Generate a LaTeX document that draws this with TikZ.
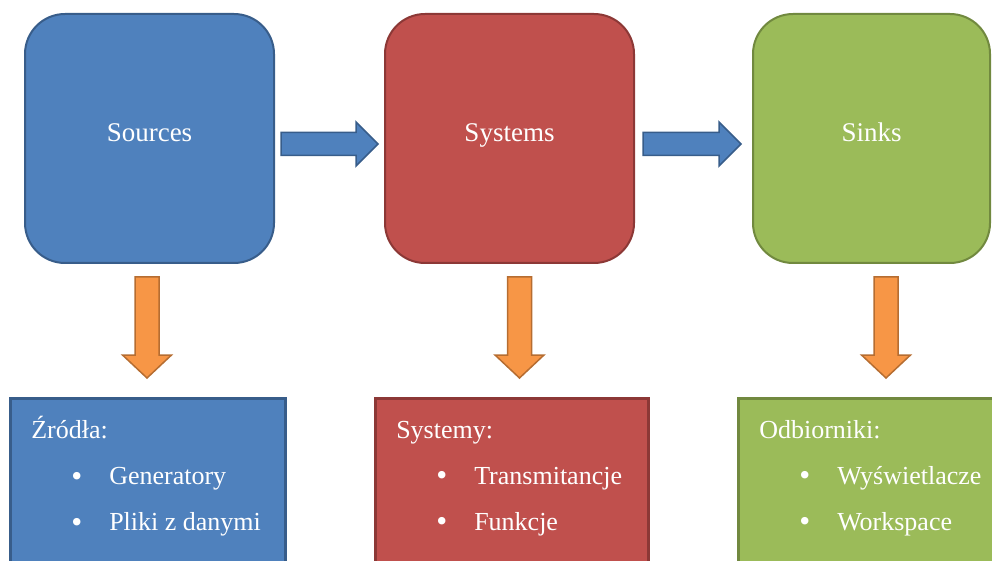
\documentclass[tikz,border=0pt]{standalone}
\usepackage{fontspec}
\setmainfont{Liberation Serif}
\usetikzlibrary{calc}

\definecolor{srcfill}{HTML}{4F81BD}
\definecolor{srcline}{HTML}{385D8A}
\definecolor{sysfill}{HTML}{C0504D}
\definecolor{sysline}{HTML}{8C3836}
\definecolor{snkfill}{HTML}{9BBB59}
\definecolor{snkline}{HTML}{71893F}
\definecolor{dnfill}{HTML}{F79646}
\definecolor{dnline}{HTML}{B66D31}

\tikzset{
  topbox/.style 2 args={rectangle,rounded corners=40pt,fill=#1,draw=#2,line width=2pt,
    minimum width=249pt,minimum height=249pt,text=white,text height=19pt,text depth=12.5pt,
    font=\fontsize{27}{30}\selectfont},
  listbox/.style 2 args={rectangle,fill=#1,draw=#2,line width=2.5pt,anchor=north west,
    inner xsep=21pt,inner ysep=18pt,text=white,font=\fontsize{26}{46}\selectfont},
  bluearrow/.style={fill=srcfill,draw=srcline,line width=1.5pt,line join=miter},
  orangearrow/.style={fill=dnfill,draw=dnline,line width=1.5pt,line join=miter}
}

% block arrow to the right: from node #1 to node #2, gaps #3 and #4
\newcommand{\blockright}[4]{%
\draw[bluearrow] let \p1=($(#1.east)+(#3,-5.5)$), \p2=($(#2.west)+(-#4,-5.5)$) in
  (\x1,{\y1+11.5pt}) -- ({\x2-22pt},{\y1+11.5pt}) -- ({\x2-22pt},{\y1+22pt})
  -- (\x2,\y1) -- ({\x2-22pt},{\y1-22pt}) -- ({\x2-22pt},{\y1-11.5pt})
  -- (\x1,{\y1-11.5pt}) -- cycle;}
% block arrow down: from node #1 to node #2, shifted by #3
\newcommand{\blockdown}[3]{%
\draw[orangearrow] let \p1=($(#1.south)+(#3,-13)$), \p2=(#2.north) in
  ({\x1-12pt},\y1) -- ({\x1+12pt},\y1) -- ({\x1+12pt},{\y2+42pt})
  -- ({\x1+24.5pt},{\y2+42pt}) -- (\x1,{\y2+19pt}) -- ({\x1-24.5pt},{\y2+42pt})
  -- ({\x1-12pt},{\y2+42pt}) -- cycle;}
\newcommand{\bulletline}[1]{\hspace*{40pt}\makebox[38pt][l]{\raisebox{-1.5pt}{\scalebox{1.2}{\textbullet}}}#1}

\begin{document}
\begin{tikzpicture}[x=1pt,y=1pt]
\useasboundingbox (0,0) rectangle (992,560);
\clip (0,0) rectangle (992,560);
%Top boxes
\node[topbox={srcfill}{srcline}] at (149.5,421.5) (src) {Sources};
\node[topbox={sysfill}{sysline}] at (509.5,421.5) (sys) {Systems};
\node[topbox={snkfill}{snkline},minimum width=237pt] at (871.5,421.5) (snk) {Sinks};
%Lists
\node[listbox={srcfill}{srcline}] at (9,163) (srclist)
  {\parbox[t][200pt][t]{233pt}{\rule{0pt}{22pt}Źródła:\\
   \bulletline{Generatory}\\
   \bulletline{Pliki z danymi}}};
\node[listbox={sysfill}{sysline}] at (374,163) (syslist)
  {\parbox[t][200pt][t]{231pt}{\rule{0pt}{22pt}Systemy:\\
   \bulletline{Transmitancje}\\
   \bulletline{Funkcje}}};
\node[listbox={snkfill}{snkline}] at (737,163) (snklist)
  {\parbox[t][200pt][t]{260pt}{\rule{0pt}{22pt}Odbiorniki:\\
   \bulletline{Wyświetlacze}\\
   \bulletline{Workspace}}};
%Arrows
\blockright{src}{sys}{6}{6}
\blockright{sys}{snk}{8}{11}
\blockdown{src}{srclist}{-2.5}
\blockdown{sys}{syslist}{10}
\blockdown{snk}{snklist}{14.5}
\end{tikzpicture}
\end{document}
